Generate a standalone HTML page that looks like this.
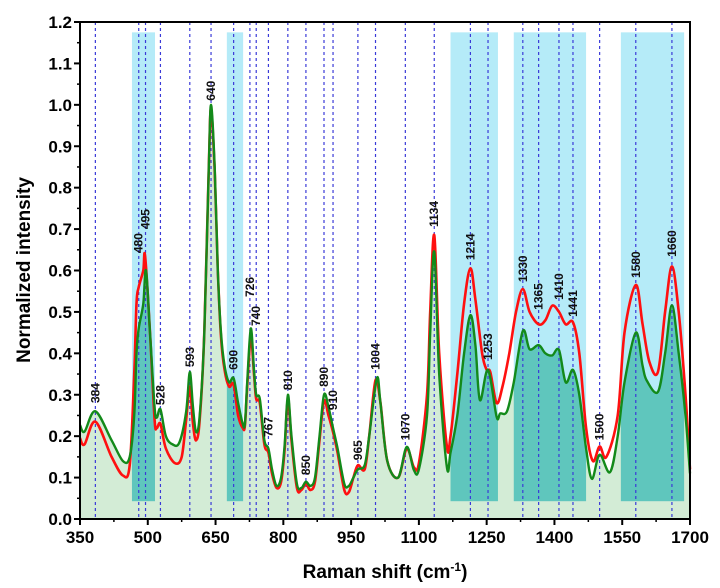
<!DOCTYPE html>
<html><head><meta charset="utf-8"><style>
html,body{margin:0;padding:0;background:#fff}
svg{display:block;font-family:"Liberation Sans",sans-serif}
</style></head><body>
<svg id="chart" width="720" height="588" viewBox="0 0 720 588">
<defs><clipPath id="fillclip"><path id="clipP"/></clipPath></defs>
<g id="bands"></g><g id="fillg"></g><g id="teal" clip-path="url(#fillclip)"></g>
<g id="vlines"></g><g id="curves"></g><g id="labels"></g><g id="axes"></g>
</svg>
<script>
const bandRanges=[[465,516],[675,711],[1170,1275],[1310,1470],[1547,1687]];
const peakPos=[384,480,495,528,593,640,690,726,740,767,810,850,890,910,965,1004,1070,1134,1214,1253,1330,1365,1410,1441,1500,1580,1660];
const peakLabelY=[0.28,0.642,0.70,0.275,0.367,1.01,0.36,0.536,0.466,0.198,0.311,0.106,0.319,0.263,0.142,0.36,0.19,0.705,0.625,0.384,0.572,0.505,0.529,0.488,0.19,0.582,0.633];
const xTicks=[350,500,650,800,950,1100,1250,1400,1550,1700];
const yTicks=[0,0.1,0.2,0.3,0.4,0.5,0.6,0.7,0.8,0.9,1.0,1.1,1.2];
const gX=[350,360,384,420,445,460,470,475,480,490,496,505,515,520,528,540,555,570,585,593,600,607,615,625,635,640,648,655,662,670,680,690,700,710,715,720,728,735,740,748,758,767,775,785,795,803,810,818,830,840,850,860,870,880,890,900,910,920,935,945,955,965,980,990,1007,1015,1030,1054,1073,1089,1100,1118,1125,1134,1145,1162,1170,1185,1200,1214,1225,1235,1253,1272,1280,1295,1310,1330,1345,1365,1380,1395,1410,1425,1441,1455,1470,1483,1500,1523,1540,1555,1580,1595,1604,1629,1645,1660,1675,1690,1700];
const gY=[0.227,0.211,0.26,0.19,0.14,0.15,0.25,0.40,0.46,0.52,0.60,0.45,0.27,0.245,0.265,0.2,0.18,0.185,0.26,0.355,0.27,0.21,0.25,0.45,0.85,1.0,0.85,0.6,0.45,0.37,0.33,0.34,0.28,0.23,0.23,0.33,0.46,0.36,0.30,0.29,0.19,0.17,0.12,0.08,0.10,0.18,0.30,0.2,0.085,0.075,0.09,0.08,0.10,0.2,0.30,0.27,0.22,0.17,0.085,0.08,0.10,0.12,0.13,0.2,0.34,0.28,0.14,0.10,0.174,0.118,0.12,0.25,0.45,0.645,0.35,0.125,0.16,0.25,0.4,0.492,0.42,0.287,0.36,0.247,0.255,0.26,0.33,0.454,0.41,0.42,0.40,0.395,0.408,0.33,0.36,0.3,0.17,0.097,0.155,0.113,0.2,0.33,0.45,0.37,0.335,0.307,0.4,0.516,0.4,0.25,0.11];
const rX=[350,360,384,420,445,460,470,475,480,490,494,505,515,520,528,540,560,575,585,593,600,607,615,625,635,640,648,655,662,670,680,690,700,710,715,720,728,735,740,748,758,767,775,785,795,803,810,818,830,840,850,860,870,880,890,900,910,920,935,945,955,965,980,990,1004,1015,1030,1054,1073,1089,1100,1118,1125,1134,1145,1162,1170,1185,1200,1214,1225,1240,1250,1258,1272,1285,1300,1315,1330,1345,1365,1380,1395,1410,1425,1441,1455,1470,1485,1500,1515,1540,1555,1580,1595,1610,1629,1645,1660,1675,1690,1700];
const rY=[0.195,0.18,0.235,0.15,0.105,0.13,0.35,0.52,0.56,0.6,0.635,0.45,0.24,0.22,0.23,0.17,0.135,0.15,0.24,0.32,0.23,0.19,0.24,0.45,0.85,0.99,0.84,0.6,0.44,0.36,0.32,0.325,0.25,0.22,0.225,0.32,0.44,0.35,0.29,0.28,0.18,0.16,0.11,0.075,0.09,0.17,0.29,0.19,0.075,0.07,0.085,0.07,0.09,0.19,0.285,0.25,0.21,0.16,0.07,0.065,0.10,0.13,0.12,0.2,0.335,0.28,0.14,0.10,0.17,0.125,0.135,0.3,0.5,0.685,0.4,0.175,0.2,0.35,0.52,0.605,0.53,0.4,0.36,0.355,0.28,0.32,0.4,0.5,0.555,0.5,0.47,0.48,0.515,0.5,0.47,0.475,0.4,0.22,0.14,0.175,0.15,0.25,0.45,0.565,0.47,0.38,0.355,0.5,0.61,0.5,0.3,0.12];

const L=80,R=690,T=22,B=519;
const sx=v=>L+(v-350)/1350*(R-L);
const sy=v=>B-v/1.2*(B-T);
const NS="http://www.w3.org/2000/svg";
function mk(tag,attrs,parent){const e=document.createElementNS(NS,tag);for(const k in attrs)e.setAttribute(k,attrs[k]);parent.appendChild(e);return e;}
function spline(xs,ys){const p=xs.map((x,i)=>[sx(x),sy(ys[i])]);let d="M"+p[0][0].toFixed(1)+","+p[0][1].toFixed(1);
for(let i=0;i<p.length-1;i++){const p0=p[Math.max(0,i-1)],p1=p[i],p2=p[i+1],p3=p[Math.min(p.length-1,i+2)];
const c1=[p1[0]+(p2[0]-p0[0])/6,p1[1]+(p2[1]-p0[1])/6],c2=[p2[0]-(p3[0]-p1[0])/6,p2[1]-(p3[1]-p1[1])/6];
d+=" C"+c1[0].toFixed(1)+","+c1[1].toFixed(1)+" "+c2[0].toFixed(1)+","+c2[1].toFixed(1)+" "+p2[0].toFixed(1)+","+p2[1].toFixed(1);}return d;}
const $=id=>document.getElementById(id);
const bandTop=1.175,bandBot=0.043;
bandRanges.forEach(b=>{
 const r=mk("rect",{x:sx(b[0]),y:sy(bandTop),width:sx(b[1])-sx(b[0]),height:sy(bandBot)-sy(bandTop),fill:"#b5ebf8"},$("bands"));
 
 
 const t=mk("rect",{x:sx(b[0]),y:sy(bandTop),width:sx(b[1])-sx(b[0]),height:sy(bandBot)-sy(bandTop),fill:"#5fc6bd"},$("teal"));
 
 
});
const gPath=spline(gX,gY);
const fillD=gPath+" L"+sx(1700)+","+B+" L"+sx(350)+","+B+" Z";
$("clipP").setAttribute("d",fillD);
const f=mk("path",{d:fillD,fill:"#d3ecd6"},$("fillg"));


peakPos.forEach((p,i)=>{
 const l=mk("line",{x1:sx(p),x2:sx(p),y1:T,y2:B,stroke:"#3a3ad8","stroke-width":1.2,"stroke-dasharray":"3,3"},$("vlines"));
 
 
 const x=sx(p)+4,y=sy(peakLabelY[i]);
 const t=mk("text",{x:x,y:y,transform:`rotate(-90 ${x} ${y})`,"font-size":12,"font-weight":"bold",fill:"#111"},$("labels"));
 t.textContent=p;
 
 
});
const red=mk("path",{d:spline(rX,rY),fill:"none",stroke:"#ff1010","stroke-width":2.6},$("curves"));


const green=mk("path",{d:gPath,fill:"none",stroke:"#138a1a","stroke-width":2.4},$("curves"));


const ax=$("axes");
const fr=mk("rect",{x:L,y:T,width:R-L,height:B-T,fill:"none",stroke:"#000","stroke-width":2},ax);


yTicks.forEach((v,i)=>{
 mk("line",{x1:L-6,x2:L,y1:sy(v),y2:sy(v),stroke:"#000","stroke-width":2},ax);
 if(i<yTicks.length-1){const m=(v+yTicks[i+1])/2;mk("line",{x1:L-3,x2:L,y1:sy(m),y2:sy(m),stroke:"#000","stroke-width":1.5},ax);}
 const t=mk("text",{x:L-8,y:sy(v)+6,"text-anchor":"end","font-size":17,"font-weight":"bold"},ax);
 t.textContent=v.toFixed(1);
 
 
});
xTicks.forEach((v,i)=>{
 mk("line",{x1:sx(v),x2:sx(v),y1:B,y2:B+6,stroke:"#000","stroke-width":2},ax);
 if(i<xTicks.length-1){const m=(v+xTicks[i+1])/2;mk("line",{x1:sx(m),x2:sx(m),y1:B,y2:B+3,stroke:"#000","stroke-width":1.5},ax);}
 const t=mk("text",{x:sx(v),y:543,"text-anchor":"middle","font-size":17,"font-weight":"bold"},ax);
 t.textContent=v;
 
 
});
const xt=mk("text",{x:385,y:578,"text-anchor":"middle","font-size":19,"font-weight":"bold"},ax);
xt.innerHTML='Raman shift (cm<tspan dy="-7" font-size="12">-1</tspan><tspan dy="7">)</tspan>';


const yt=mk("text",{x:30,y:270,"text-anchor":"middle","font-size":19,"font-weight":"bold",transform:"rotate(-90 30 270)"},ax);
yt.textContent="Normalized intensity";


</script>
</body></html>
